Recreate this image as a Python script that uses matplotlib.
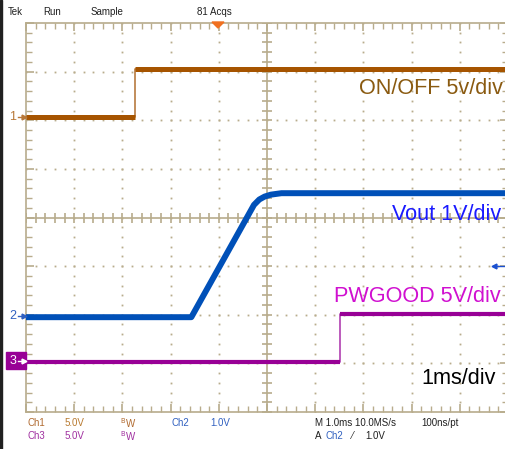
import numpy as np
import matplotlib
matplotlib.use("Agg")
import matplotlib.pyplot as plt
from matplotlib.patches import Rectangle, Polygon
from matplotlib.lines import Line2D
from matplotlib import font_manager

plt.rcParams['font.family'] = ['Liberation Sans', 'DejaVu Sans']

# ---- data (time in ms, amplitude in divisions) ----
ch1_t = [-5.0, -2.73, -2.73, 5.2]
ch1_v = [2.07, 2.07, 3.06, 3.06]

ch2_t = [-5.0, -1.57, -0.27, -0.16, -0.05, 0.08, 0.30, 5.2]
ch2_v = [-2.05, -2.05, 0.26, 0.37, 0.43, 0.47, 0.50, 0.50]

ch3_t = [-5.0, 1.51, 1.51, 5.2]
ch3_v = [-2.98, -2.98, -1.99, -1.99]

labels_right = ["ON/OFF 5v/div", "Vout 1V/div", "PWGOOD 5V/div", "1ms/div"]

W, H = 505, 449
fig = plt.figure(figsize=(W / 100, H / 100), dpi=100)
fig.patch.set_facecolor('white')

L, R, T, B = 26, 508, 23, 412
ax = fig.add_axes([L / W, (H - B) / H, (R - L) / W, (B - T) / H])
ax.set_xlim(-5, 5)
ax.set_ylim(-4, 4)
ax.set_facecolor('white')

grid_c = '#b8ac8c'
for s in ax.spines.values():
    s.set_color(grid_c)
    s.set_linewidth(1.2)
ax.set_xticks(np.arange(-5, 5.01, 1))
ax.set_yticks(np.arange(-4, 4.01, 1))
ax.set_xticks(np.arange(-5, 5.01, 0.2), minor=True)
ax.set_yticks(np.arange(-4, 4.01, 0.2), minor=True)
ax.tick_params(which='both', direction='in', top=True, right=True, color=grid_c,
               labelbottom=False, labelleft=False)
ax.tick_params(which='major', length=6, width=1.2)
ax.tick_params(which='minor', length=4, width=1)

# dotted graticule
dots = np.arange(-4, 4.01, 0.2)
for gx in range(-4, 5):
    if gx == 0:
        continue
    ax.plot(np.full_like(dots, gx), dots, ls='', marker='s', ms=1.3, color=grid_c, mew=0)
dotsx = np.arange(-5, 5.01, 0.2)
for gy in range(-3, 4):
    if gy == 0:
        continue
    ax.plot(dotsx, np.full_like(dotsx, gy), ls='', marker='s', ms=1.3, color=grid_c, mew=0)

# center cross with ticks
ax.axhline(0, color=grid_c, lw=1.2)
ax.axvline(0, color=grid_c, lw=1.2)
ax.plot(dotsx, np.zeros_like(dotsx), ls='', marker='|', ms=7, mew=1.2, color=grid_c)
ax.plot(np.zeros_like(dots), dots, ls='', marker='_', ms=7, mew=1.2, color=grid_c)

# traces
c1, c2, c3 = '#a65400', '#0050b8', '#980096'
ax.plot(ch1_t, ch1_v, color='#b87a40', lw=1.2, zorder=5)
ax.plot(ch1_t[:2], ch1_v[:2], color=c1, lw=3.6, zorder=6, solid_capstyle='butt')
ax.plot(ch1_t[2:], ch1_v[2:], color=c1, lw=3.6, zorder=6, solid_capstyle='butt')

ax.plot(ch2_t, ch2_v, color=c2, lw=4.3, zorder=6, solid_capstyle='butt', solid_joinstyle='round')

ax.plot(ch3_t, ch3_v, color='#b040b0', lw=1.2, zorder=5)
ax.plot(ch3_t[:2], ch3_v[:2], color=c3, lw=3.0, zorder=6, solid_capstyle='butt')
ax.plot(ch3_t[2:], ch3_v[2:], color=c3, lw=3.0, zorder=6, solid_capstyle='butt')

# right-side labels (figure pixel coords)
def fp(x, y):
    return x / W, 1 - y / H

names = {f.name for f in font_manager.fontManager.ttflist}
if 'Liberation Sans Narrow' in names:
    big_family, big_fs = ['Liberation Sans Narrow', 'DejaVu Sans'], 19
else:
    big_family, big_fs = ['Liberation Sans', 'DejaVu Sans'], 15.6

for txt, x, y, c in zip(labels_right, [503, 501, 501, 496], [88, 214, 296, 378],
                        ['#8a5a10', '#1a1aff', '#d010d0', '#000000']):
    fig.text(*fp(x, y), txt, color=c, fontsize=big_fs, family=big_family,
             ha='right', va='center')

# top status
for txt, x in [("Tek", 8), ("Run", 43), ("Sample", 91), ("81 Acqs", 197)]:
    fig.text(*fp(x, 12), txt, fontsize=7, ha='left', va='center', color='#202020')

# trigger position marker
tri = Polygon([fp(212, 22), fp(224, 22), fp(218, 28)], closed=True,
              transform=fig.transFigure, color='#f07020', zorder=10)
fig.patches.append(tri)


def arrow(x0, x1, y, color):
    fig.add_artist(Line2D([x0 / W, x1 / W], [1 - y / H, 1 - y / H],
                          transform=fig.transFigure, color=color, lw=1, zorder=12))
    mk = '>' if x1 > x0 else '<'
    fig.add_artist(Line2D([x1 / W], [1 - y / H], transform=fig.transFigure,
                          color=color, marker=mk, ms=3.5, ls='', zorder=12))


# channel markers on left
fig.text(*fp(13, 117), "1", color='#b87838', fontsize=9, ha='center', va='center')
arrow(18, 24, 117, '#b87838')
fig.text(*fp(13, 316), "2", color='#3060c0', fontsize=9, ha='center', va='center')
arrow(18, 24, 316, '#3060c0')
box = Rectangle(fp(6, 369), 20 / W, 17 / H, transform=fig.transFigure,
                color='#980096', zorder=10)
fig.patches.append(box)
fig.text(*fp(13, 361), "3", color='white', fontsize=9, ha='center', va='center', zorder=11)
arrow(18, 24, 361, 'white')

# trigger level arrow at right
arrow(504, 494, 266, '#1a50d0')

# left black edge
fig.patches.append(Rectangle((0, 0), 2 / W, 1, transform=fig.transFigure, color='#202020'))

# bottom readouts
r1, r2 = 423, 436
fs = 7
fig.text(*fp(27, r1), "Ch1", color='#b06a30', fontsize=fs, va='center')
fig.text(*fp(65, r1), "5.0V", color='#b87a30', fontsize=fs, va='center')
fig.text(*fp(120, r1), "$^{\\mathrm{B}}$W", color='#b06a30', fontsize=fs, va='center')
fig.text(*fp(171, r1), "Ch2", color='#3060c0', fontsize=fs, va='center')
fig.text(*fp(210, r1), "1.0V", color='#3060c0', fontsize=fs, va='center')
fig.text(*fp(315, r1), "M 1.0ms 10.0MS/s", color='#202020', fontsize=fs, va='center')
fig.text(*fp(421, r1), "100ns/pt", color='#202020', fontsize=fs, va='center')
fig.text(*fp(27, r2), "Ch3", color='#a030a0', fontsize=fs, va='center')
fig.text(*fp(65, r2), "5.0V", color='#a030a0', fontsize=fs, va='center')
fig.text(*fp(120, r2), "$^{\\mathrm{B}}$W", color='#a030a0', fontsize=fs, va='center')
fig.text(*fp(315, r2), "A", color='#202020', fontsize=fs, va='center')
fig.text(*fp(326, r2), "Ch2", color='#3060c0', fontsize=fs, va='center')
fig.text(*fp(352, r2), "⁄", color='#202020', fontsize=fs, va='center')
fig.text(*fp(365, r2), "1.0V", color='#202020', fontsize=fs, va='center')

fig.savefig("out.png", dpi=100)
